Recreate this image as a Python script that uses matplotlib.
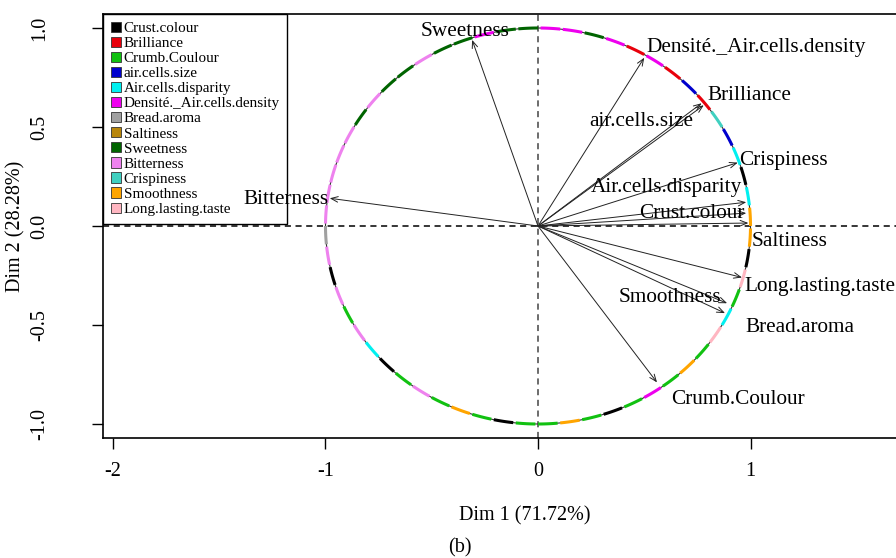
import numpy as np
import matplotlib
matplotlib.use("Agg")
from matplotlib import pyplot as plt
from matplotlib.patches import Patch

plt.rcParams['font.family'] = ['Liberation Serif', 'DejaVu Serif']

# variables, legend colours and correlation coordinates (Dim 1, Dim 2)
variables = ['Crust.colour', 'Brilliance', 'Crumb.Coulour', 'air.cells.size',
             'Air.cells.disparity', 'Densité._Air.cells.density', 'Bread.aroma',
             'Saltiness', 'Sweetness', 'Bitterness', 'Crispiness', 'Smoothness',
             'Long.lasting.taste']
var_colors = ['#000000', '#E8000B', '#11C111', '#0000CD', '#00F0F0', '#EE00EE',
              '#A0A0A0', '#B8860B', '#006400', '#EE82EE', '#40D0C0', '#FFA500',
              '#FFB6C1']
dim1 = [0.98, 0.78, 0.56, 0.77, 0.98, 0.50, 0.88, 0.99, -0.31, -0.98, 0.94, 0.89, 0.96]
dim2 = [0.065, 0.61, -0.79, 0.62, 0.12, 0.85, -0.44, 0.015, 0.94, 0.14, 0.32, -0.39, -0.26]

# colour of the circle, 6 degree pieces going anticlockwise from angle 0
circle_colors = [
    '#FFA500', '#00F0F0', '#000000', '#00F0F0', '#0000CD', '#40D0C0',
    '#E8000B', '#0000CD', '#E8000B', '#EE00EE', '#E8000B', '#EE00EE',
    '#006400', '#EE00EE', '#EE00EE', '#006400', '#006400', '#EE00EE',
    '#006400', '#006400', '#EE82EE', '#006400', '#006400', '#EE82EE',
    '#006400', '#EE82EE', '#EE82EE', '#EE82EE', '#EE82EE', '#EE82EE',
    '#A0A0A0', '#EE82EE', '#000000', '#EE82EE', '#11C111', '#EE82EE',
    '#00F0F0', '#000000', '#11C111', '#EE82EE', '#11C111', '#FFA500',
    '#11C111', '#000000', '#11C111', '#11C111', '#FFA500', '#11C111',
    '#000000', '#11C111', '#EE00EE', '#11C111', '#FFA500', '#11C111',
    '#FFB6C1', '#00F0F0', '#11C111', '#FFB6C1', '#000000', '#FFA500']

fig = plt.figure(figsize=(8.96, 5.58), dpi=100)
ax = fig.add_axes([103 / 896, 120 / 558, 802 / 896, 424 / 558])
ax.set_xlim(-2.047, 1.727)
ax.set_ylim(-1.0707, 1.0707)

# circle
t = np.linspace(0, 2 * np.pi, 400)
ax.plot(np.cos(t), np.sin(t), color='#333333', lw=0.8, zorder=2)
for i, c in enumerate(circle_colors):
    a = np.radians(np.linspace(6 * i, 6 * i + 5.3, 10))
    ax.plot(np.cos(a), np.sin(a), color=c, lw=2.2, solid_capstyle='butt', zorder=3)

ax.axhline(0, color='black', lw=1.1, ls=(0, (4, 3)), zorder=1)
ax.axvline(0, color='#444444', lw=1.1, ls=(0, (4, 3)), zorder=1)

for x, y in zip(dim1, dim2):
    ax.annotate('', xy=(x, y), xytext=(0, 0),
                arrowprops=dict(arrowstyle='->,head_length=0.5,head_width=0.2',
                                color='#222222', lw=0.7, shrinkA=0, shrinkB=0),
                zorder=4)

labels = {
    'Sweetness': (-0.345, 0.98, 'center'),
    'Bitterness': (-0.988, 0.136, 'right'),
    'Densité._Air.cells.density': (0.508, 0.904, 'left'),
    'Brilliance': (0.795, 0.657, 'left'),
    'air.cells.size': (0.487, 0.53, 'center'),
    'Crispiness': (0.946, 0.333, 'left'),
    'Air.cells.disparity': (0.602, 0.192, 'center'),
    'Crust.colour': (0.725, 0.061, 'center'),
    'Saltiness': (1.007, -0.076, 'left'),
    'Long.lasting.taste': (0.969, -0.308, 'left'),
    'Smoothness': (0.621, -0.359, 'center'),
    'Bread.aroma': (0.974, -0.515, 'left'),
    'Crumb.Coulour': (0.626, -0.874, 'left'),
}
for name, (lx, ly, ha) in labels.items():
    ax.text(lx, ly, name, fontsize=15.3, ha=ha, va='center', zorder=7)

handles = [Patch(facecolor=c, edgecolor='#333333', lw=0.6) for c in var_colors]
leg = ax.legend(handles, variables, loc='upper left', bbox_to_anchor=(0, 1),
                borderaxespad=0, fontsize=10.9, frameon=True, fancybox=False,
                handlelength=0.66, handleheight=0.66, handletextpad=0.2,
                labelspacing=0.11, borderpad=0.5)
leg.get_frame().set_edgecolor('black')
leg.get_frame().set_linewidth(1.0)
leg.get_frame().set_alpha(1)
leg.set_zorder(5)

ax.set_xticks([-2, -1, 0, 1])
ax.set_xticklabels(['-2', '-1', '0', '1'])
ax.set_yticks([-1.0, -0.5, 0.0, 0.5, 1.0])
ax.set_yticklabels(['-1.0', '-0.5', '0.0', '0.5', '1.0'], rotation=90, va='center')
ax.tick_params(labelsize=14.5, length=8, width=1)
ax.tick_params(axis='x', pad=9)
ax.tick_params(axis='y', pad=31)
for s in ax.spines.values():
    s.set_linewidth(1.2)

ax.set_xlabel('Dim 1 (71.72%)', fontsize=14.5)
ax.set_ylabel('Dim 2 (28.28%)', fontsize=14.5)
ax.xaxis.set_label_coords((525 - 103) / 802, -(506 - 438) / 424)
ax.yaxis.set_label_coords(-(103 - 25) / 802, 0.5)
fig.text(460 / 896, 1 - 548 / 558, '(b)', fontsize=14.5, ha='center', va='center')

fig.savefig('out.png', dpi=100)
